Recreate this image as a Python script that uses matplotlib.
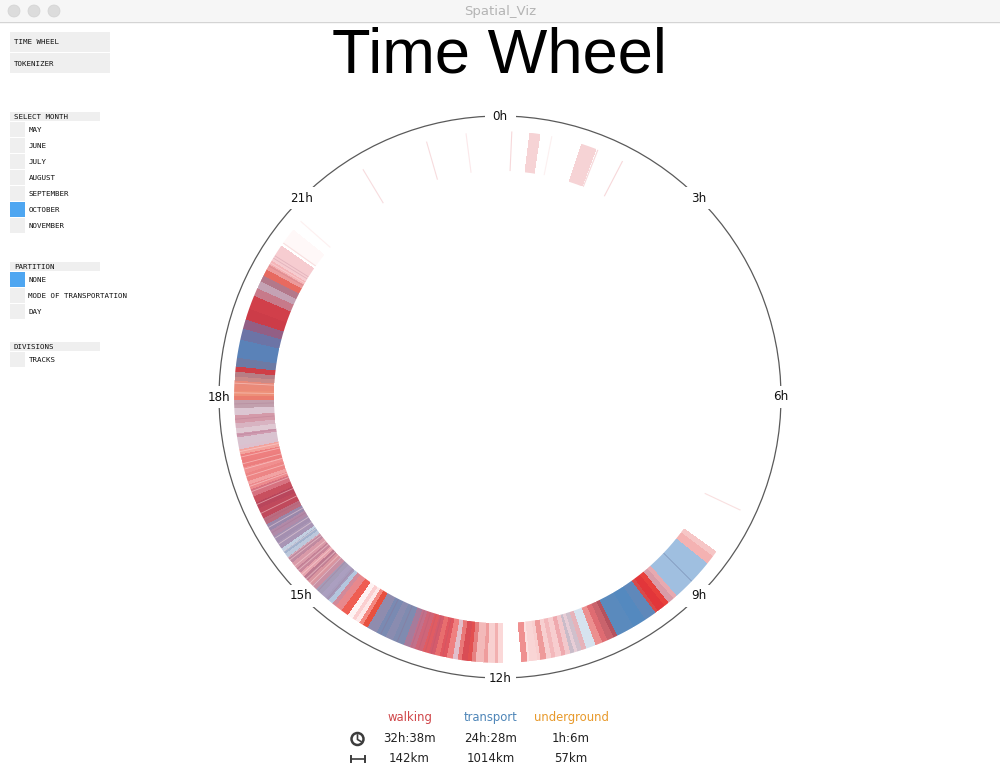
import numpy as np
import matplotlib
matplotlib.use("Agg")
import matplotlib.pyplot as plt
from matplotlib.colors import ListedColormap
from matplotlib.patches import Rectangle, Circle

# ---- data ----
morning_edges = [8.38, 8.46, 8.60, 8.92, 8.94, 9.23, 9.30, 9.39, 9.46, 9.58, 9.63, 9.80, 10.00, 10.26, 10.33, 10.42,
                 10.50, 10.60, 10.75, 10.82, 10.88, 10.93, 10.98, 11.05, 11.12, 11.20, 11.27, 11.33, 11.42, 11.47,
                 11.58, 11.61, 11.69]
morning_colors = ["#f6c6c6", "#f4b2b2", "#9fbfe0", "#8ea9cc", "#a0bfe0", "#e7a9b0", "#d99ca8", "#e8403c", "#e2363a",
                  "#d84a4a", "#5f88ba", "#5489bf", "#5a8abd", "#b5525e", "#c9636c", "#df6c72", "#ec8f8f", "#d6e3ef",
                  "#e6b3ba", "#d0c0cc", "#e7cdd6", "#c9bcc9", "#f2c8cc", "#efa9ae", "#f7cdcf", "#f3b8bb", "#f7cfd0",
                  "#ee9a9a", "#f8cfcf", "#f9d5d5", "#fce0e0", "#ef9090"]

afternoon_edges = [11.95, 12.03, 12.09, 12.18, 12.24, 12.36, 12.42, 12.48, 12.56, 12.62, 12.70, 12.78, 12.88, 12.96,
                   13.05, 13.14, 13.25, 13.34, 13.43, 13.60, 13.70, 13.85, 14.00, 14.08, 14.14, 14.20, 14.26, 14.34,
                   14.45, 14.55, 14.62, 14.68, 14.74, 14.82, 14.92, 15.00, 15.10, 15.18, 15.26, 15.34, 15.44, 15.54,
                   15.60, 15.65, 15.70, 15.80, 15.90, 16.00, 16.10, 16.20, 16.35, 16.45, 16.55, 16.65, 16.72, 16.78,
                   16.90, 16.98, 17.08, 17.17, 17.25, 17.30, 17.42, 17.48, 17.56, 17.62, 17.74, 17.84, 17.96, 18.02,
                   18.10, 18.17, 18.24, 18.30, 18.38, 18.45, 18.58, 18.84, 19.00, 19.14, 19.30, 19.50, 19.62, 19.72,
                   19.82, 19.92, 20.00, 20.06, 20.30]
afternoon_colors = ["#fbd8d8", "#f2b0b0", "#f8d0d0", "#ef9d9d", "#f3b9b9", "#e68080", "#e25050", "#d94d55", "#e97878",
                    "#e2bfcb", "#ef8080", "#e0565f", "#e86e6e", "#d55b6b", "#e05c62", "#cf6578", "#c2708a", "#a77b9b",
                    "#7f8bb0", "#8a8cb0", "#7a8ab2", "#8f8cae", "#e8503f", "#f4877f", "#fde7e7", "#fbcfd0", "#fef3f3",
                    "#ef5d52", "#e8888c", "#d28a9a", "#b4c6de", "#a79cbc", "#ab9fc0", "#a59cb8", "#c88fa3", "#d9959f",
                    "#c27f94", "#e6a3ad", "#c9879b", "#d99aa8", "#c08aa0", "#bcc8dc", "#a3b2cd", "#c3d0e2", "#a895b5",
                    "#a38fb0", "#b18aa8", "#9a88ab", "#bb6c80", "#c0495c", "#b9465c", "#c8505f", "#d77280", "#ec8a8d",
                    "#f2a3a3", "#ed8585", "#f08f8f", "#ec7e7e", "#ee7f7f", "#f3a39d", "#dcc0ce", "#d9c3d0",
                    "#cf9bb0", "#dfc8d2", "#d8b3c1", "#d49aa9", "#dcc6d2", "#c2a0ad", "#ea7d6f", "#ed9078", "#eb8a78",
                    "#e98a7a", "#c98a88", "#b77e85", "#cf3f47", "#6d7aa4", "#5a82b8", "#6c74a6", "#925f85", "#cc3c48",
                    "#d13f4a", "#c77a8a", "#c4a2b4", "#b3788a", "#e76a60", "#ec9a9a", "#f4b5b8", "#f6ccd0"]

pale_streak_hours = [14.98, 15.04, 15.12, 15.21, 15.29, 15.37, 15.48, 15.52, 15.63, 15.76, 15.86, 16.04, 16.27, 16.41,
                     16.61, 16.69, 16.84, 16.95, 17.03, 17.13, 17.21, 18.06, 18.20, 20.02]
dark_streak_hours = [12.83, 13.00, 13.09, 13.19, 13.30, 13.52, 13.78, 14.70, 14.88, 15.15, 15.32, 15.95, 16.15, 17.45,
                     17.68, 17.90, 19.97, 20.10, 20.14]

night_block_start = [0.43, 1.19, 20.36]
night_block_end = [0.57, 1.41, 20.60]
night_block_color = ["#f6d3d5", "#f6d3d5", "#fff8f8"]

trace_hours = [22.93, 23.51, 0.17, 0.75, 1.44, 1.83, 21.93, 20.36, 20.76, 7.68]
trace_colors = ["#f7dcde", "#fbe8ea", "#f7d8da", "#fcf0f0", "#f7d8da", "#f7d8da", "#f7dcde", "#f9e0e0", "#fdf0f0",
                "#f9e0e0"]

clock_hours = [0, 3, 6, 9, 12, 15, 18, 21]

month_labels = ["MAY", "JUNE", "JULY", "AUGUST", "SEPTEMBER", "OCTOBER", "NOVEMBER"]
partition_labels = ["NONE", "MODE OF TRANSPORTATION", "DAY"]
division_labels = ["TRACKS"]
nav_labels = ["TIME WHEEL", "TOKENIZER"]

mode_labels = ["walking", "transport", "underground"]
mode_colors = ["#d0474a", "#4f86b8", "#e89a2c"]
mode_time = ["32h:38m", "24h:28m", "1h:6m"]
mode_dist = ["142km", "1014km", "57km"]

# ---- layout ----
W, H = 1000, 772
CX, CY = 500, 397
R_IN, R_OUT, R_CLOCK = 226, 266, 281
UI_GREY, UI_BLUE, UI_TEXT = "#efefef", "#4ea6f1", "#111111"

fig = plt.figure(figsize=(W / 100, H / 100), dpi=100, facecolor="white")

# pixel overlay for window furniture
ui = fig.add_axes([0, 0, 1, 1], zorder=1)
ui.set_xlim(0, W)
ui.set_ylim(H, 0)
ui.axis("off")

ui.add_patch(Rectangle((0, 0), W, 21, fc="#f6f6f6", ec="none"))
ui.plot([0, W], [21.5, 21.5], color="#d4d4d4", lw=1)
for x in (14, 34, 54):
    ui.add_patch(Circle((x, 11), 6, fc="#dcdcdc", ec="#d2d2d2", lw=0.5))
ui.text(CX, 11, "Spatial_Viz", ha="center", va="center", fontsize=9.5, color="#b4b4b4", family="DejaVu Sans")
ui.text(499, 72.5, "Time Wheel", ha="center", va="baseline", fontsize=45.5, color="black", family="Liberation Sans")

mono = dict(family="DejaVu Sans Mono", fontsize=5.4, color=UI_TEXT, va="center")
for i, lab in enumerate(nav_labels):
    y = 32 + 21 * i
    ui.add_patch(Rectangle((10, y), 100, 20, fc=UI_GREY, ec="none"))
    ui.text(14, y + 10.5, lab, **mono)


def group(title, y0, labels, active):
    ui.add_patch(Rectangle((10, y0), 90, 9, fc=UI_GREY, ec="none"))
    ui.text(14, y0 + 5, title, **mono)
    for i, lab in enumerate(labels):
        y = y0 + 10 + 16 * i
        ui.add_patch(Rectangle((10, y), 15, 15, fc=UI_BLUE if lab == active else UI_GREY, ec="none"))
        ui.text(28.5, y + 8, lab, **mono)


group("SELECT MONTH", 112, month_labels, "OCTOBER")
group("PARTITION", 262, partition_labels, "NONE")
group("DIVISIONS", 342, division_labels, None)

# legend table
for x, lab, col, t, d in zip((410, 491, 571), mode_labels, mode_colors, mode_time, mode_dist):
    ui.text(x, 717.5, lab, ha="center", va="center", fontsize=8.4, color=col, family="DejaVu Sans")
    ui.text(x - 0.5, 738, t, ha="center", va="center", fontsize=8.5, color="#222222", family="DejaVu Sans")
    ui.text(x - 0.5, 758, d, ha="center", va="center", fontsize=8.5, color="#222222", family="DejaVu Sans")
ui.add_patch(Circle((357.5, 739), 6, fc="none", ec="#3c3c3c", lw=1.8))
ui.plot([357.5, 357.5, 361], [735, 739.5, 741.5], color="#3c3c3c", lw=1.2)
ui.plot([350.5, 364.5], [759, 759], color="#3c3c3c", lw=1.2)
ui.plot([350.5, 350.5], [756, 762], color="#3c3c3c", lw=1.4)
ui.plot([364.5, 364.5], [756, 762], color="#3c3c3c", lw=1.4)

# clock ring, broken behind each hour label by a fixed white box
ui.add_patch(Circle((CX, CY), R_CLOCK, fc="none", ec="#5a5a5a", lw=0.9))
for h in clock_hours:
    a = h / 24 * 2 * np.pi
    ui.add_patch(Rectangle((CX + R_CLOCK * np.sin(a) - 15.5, CY - R_CLOCK * np.cos(a) - 11), 31, 22,
                           fc="white", ec="none", zorder=3))

# wheel, one polar axis whose radius unit is one pixel
ax = fig.add_axes([(CX - 300) / W, (H - CY - 300) / H, 600 / W, 600 / H], projection="polar", zorder=2)
ax.set_theta_zero_location("N")
ax.set_theta_direction(-1)
ax.set_rlim(0, 300)
ax.axis("off")
ax.patch.set_alpha(0)


def rad(h):
    return np.asarray(h, dtype=float) / 24 * 2 * np.pi


def band(edges, colors):
    cells = np.arange(len(colors)).reshape(1, -1)
    ax.pcolormesh(rad(edges), [R_IN, R_OUT], cells, cmap=ListedColormap(colors), shading="flat",
                  vmin=-0.5, vmax=len(colors) - 0.5, antialiased=False, linewidth=0)


band(morning_edges, morning_colors)
band(afternoon_edges, afternoon_colors)

for s, e, c in zip(night_block_start, night_block_end, night_block_color):
    band([s, e], [c])


def streak(h, color, alpha):
    ax.plot([rad(h), rad(h)], [R_IN, R_OUT], color=color, lw=0.6, alpha=alpha, solid_capstyle="butt")


for h in pale_streak_hours:
    streak(h, "#ffe4e4", 0.5)
for h in dark_streak_hours:
    streak(h, "#9c5a78", 0.22)
for h, c in zip(trace_hours, trace_colors):
    ax.plot([rad(h), rad(h)], [R_IN, R_OUT], color=c, lw=0.8, solid_capstyle="butt")

# white hairlines give the aliased mesh a soft inner and outer rim
rim = np.linspace(0, 2 * np.pi, 721)
ax.plot(rim, np.full_like(rim, R_OUT + 0.8), color="white", lw=1.2)
ax.plot(rim, np.full_like(rim, R_IN - 0.8), color="white", lw=1.2)

for h in clock_hours:
    ax.text(rad(h), R_CLOCK, f"{h}h", ha="center", va="center", fontsize=8.6, color="#111111",
            family="DejaVu Sans", zorder=5)

fig.savefig("out.png", dpi=100)
